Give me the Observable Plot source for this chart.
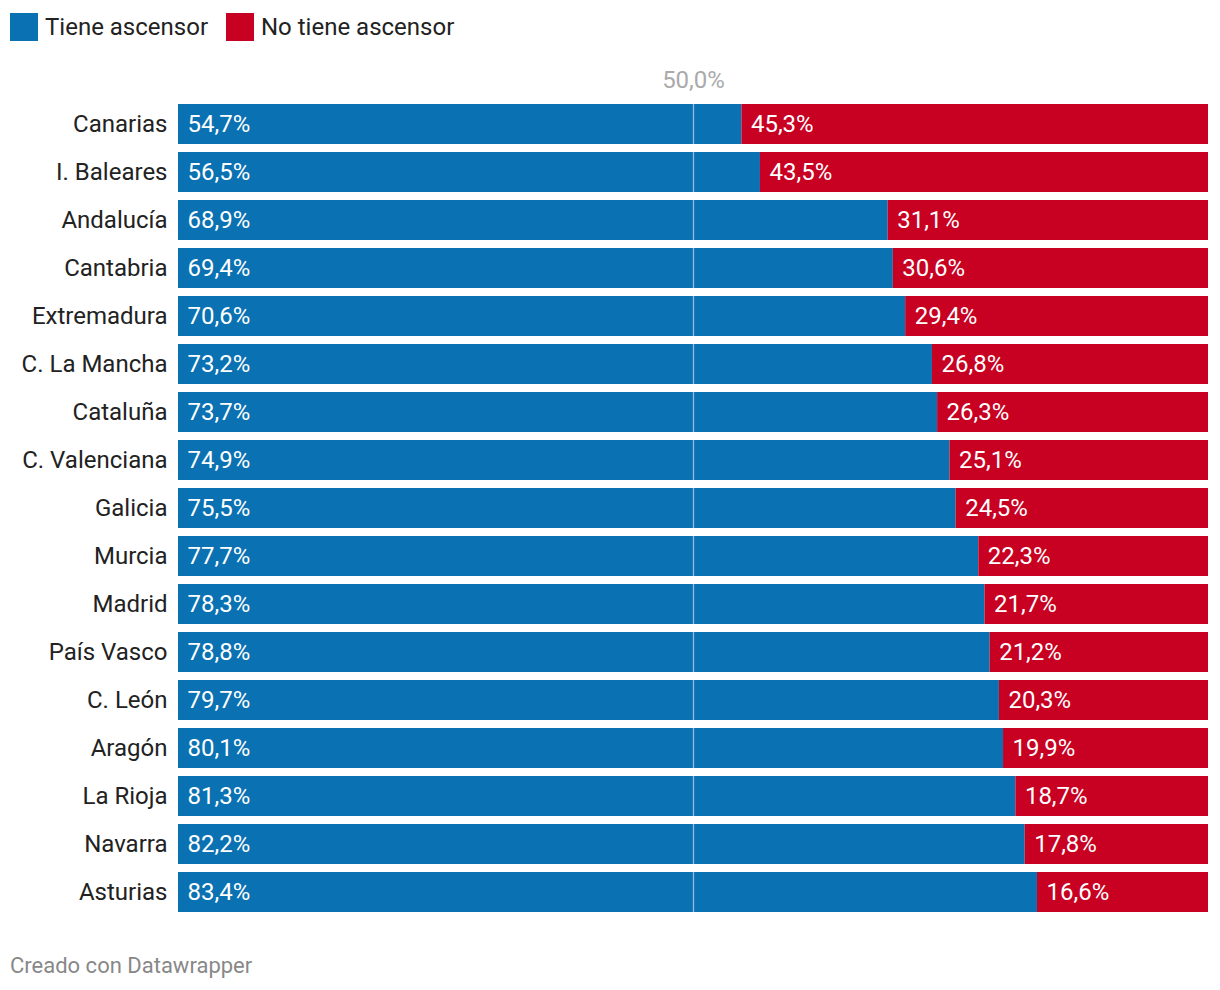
<!DOCTYPE html>
<html>
<head>
<meta charset="utf-8">
<script src="https://cdn.jsdelivr.net/npm/d3@7"></script>
<script src="https://cdn.jsdelivr.net/npm/@observablehq/plot@0.6"></script>
<style>
  body { margin: 0; background: #fff; font-family: Roboto, "Noto Sans", sans-serif; }
  #legend { height: 56px; position: relative; font-size: 24px; color: #222; }
  .item { position: absolute; top: 13px; display: flex; align-items: center; height: 28px; }
  .sw { width: 28px; height: 28px; margin-right: 7px; }
  #footer { height: 54px; padding-top: 17px; box-sizing: border-box; padding-left: 10px; font-size: 22px; color: #888; }
</style>
</head>
<body>
<div id="legend"></div>
<div id="chart"></div>
<div id="footer">Creado con Datawrapper</div>
<script>
const regions = ["Canarias", "I. Baleares", "Andalucía", "Cantabria", "Extremadura", "C. La Mancha", "Cataluña", "C. Valenciana", "Galicia", "Murcia", "Madrid", "País Vasco", "C. León", "Aragón", "La Rioja", "Navarra", "Asturias"];
const tiene = [54.7, 56.5, 68.9, 69.4, 70.6, 73.2, 73.7, 74.9, 75.5, 77.7, 78.3, 78.8, 79.7, 80.1, 81.3, 82.2, 83.4];
const noTiene = [45.3, 43.5, 31.1, 30.6, 29.4, 26.8, 26.3, 25.1, 24.5, 22.3, 21.7, 21.2, 20.3, 19.9, 18.7, 17.8, 16.6];
const seriesNames = ["Tiene ascensor", "No tiene ascensor"];
const seriesColors = ["#0a71b2", "#c80021"];
const refTicks = [50];

const fmt = v => v.toFixed(1).replace(".", ",") + "%";

const rows = [];
regions.forEach((r, i) => {
  rows.push({region: r, serie: seriesNames[0], x1: 0, x2: tiene[i], v: tiene[i]});
  rows.push({region: r, serie: seriesNames[1], x1: tiene[i], x2: tiene[i] + noTiene[i], v: noTiene[i]});
});

// legend
const leg = document.getElementById("legend");
const lefts = [10, 226];
seriesNames.forEach((s, i) => {
  const d = document.createElement("div");
  d.className = "item";
  d.style.left = lefts[i] + "px";
  d.innerHTML = `<div class="sw" style="background:${seriesColors[i]}"></div><span>${s}</span>`;
  leg.appendChild(d);
});

const chart = Plot.plot({
  width: 1220,
  height: 880,
  marginLeft: 178,
  marginRight: 12,
  marginTop: 40,
  marginBottom: 16,
  style: {fontFamily: "Roboto, sans-serif", fontSize: "24px", background: "#fff"},
  x: {domain: [0, 100], axis: null},
  y: {domain: regions, paddingInner: 8/48, paddingOuter: 8/48, label: null},
  color: {domain: seriesNames, range: seriesColors},
  marks: [
    Plot.barX(rows, {y: "region", x1: "x1", x2: "x2", fill: "serie"}),
    Plot.ruleX(refTicks, {x: d => d, stroke: "#ffffff", strokeOpacity: 0.55, strokeWidth: 1.3,
      insetTop: 8, insetBottom: 8}),
    Plot.axisX(refTicks, {anchor: "top", tickSize: 0, tickPadding: 9, tickFormat: d => fmt(d), fill: "#aaa", fontSize: 24}),
    Plot.axisY({tickSize: 0, tickPadding: 11, fill: "#222", fontSize: 24}),
    Plot.text(rows, {y: "region", x: "x1", text: d => fmt(d.v), textAnchor: "start", dx: 9, fill: "#fff", fontSize: 24})
  ]
});
document.getElementById("chart").appendChild(chart);
</script>
</body>
</html>
